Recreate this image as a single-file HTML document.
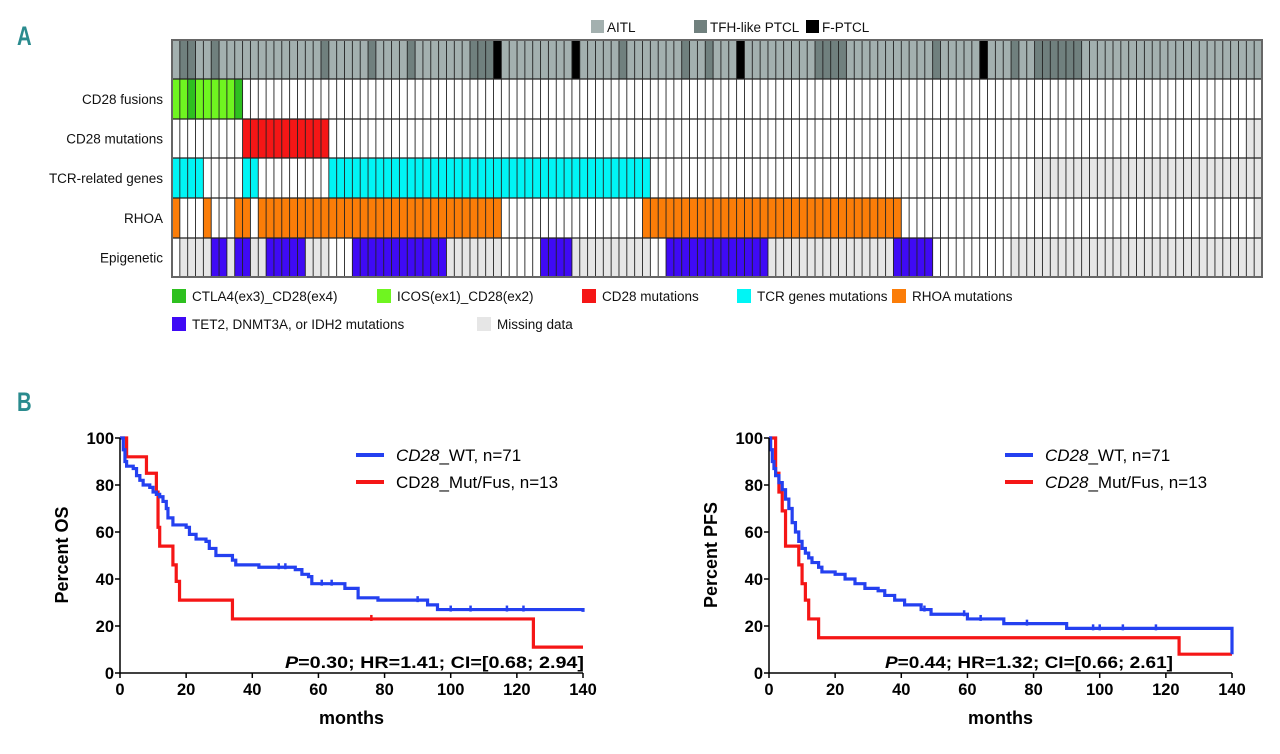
<!DOCTYPE html>
<html><head><meta charset="utf-8">
<style>
body{margin:0;background:#fff;width:1280px;height:749px;overflow:hidden;font-family:"Liberation Sans",sans-serif;}
</style></head>
<body>
<svg id="fig" width="1280" height="749" viewBox="0 0 1280 749" xmlns="http://www.w3.org/2000/svg" font-family="Liberation Sans, sans-serif">
<text x="0" y="0" font-size="27" font-weight="bold" fill="#2a8b8e" transform="translate(17,45) scale(0.75,1)">A</text>
<text x="0" y="0" font-size="27" font-weight="bold" fill="#2a8b8e" transform="translate(17,411) scale(0.75,1)">B</text>
<g id="heat"></g>
<g id="km1"></g>
<g id="km2"></g>
</svg>
<script>
const NS="http://www.w3.org/2000/svg";
function mk(tag,attrs,parent,txt){const e=document.createElementNS(NS,tag);for(const k in attrs)e.setAttribute(k,attrs[k]);if(txt!==undefined)e.textContent=txt;parent.appendChild(e);return e;}

// ---- Heatmap data ----
const nCols=139;
const rowNames=["CD28 fusions","CD28 mutations","TCR-related genes","RHOA","Epigenetic"];
const tfhCols=[1,2,5,19,25,30,38,39,40,57,65,68,82,83,84,85,97,107,110,111,112,113,114,115];
const fptclCols=[41,51,72,103];
const ctlaCols=[2,8];
const icosRange=[0,8];
const cd28MutRange=[9,19];
const tcrRanges=[[0,3],[9,10],[20,60]];
const rhoaRanges=[[0,0],[4,4],[8,9],[11,41],[60,92]];
const epiRanges=[[5,6],[8,9],[12,16],[23,34],[47,50],[63,75],[92,96]];
const missMut=[[137,138]];
const missTcr=[[110,138]];
const missRhoa=[[138,138]];
const missEpi=[[1,4],[7,7],[10,11],[17,19],[35,41],[51,60],[76,91],[107,138]];

const heat=document.getElementById('heat');
const gx0=172,gx1=1262,rowY=[40,79,119,158,198,238,277];
const cw=(gx1-gx0)/nCols;
const cx=i=>gx0+i*cw;
function fillRange(r,a,b,color,name){
  const e=mk('rect',{x:cx(a),y:rowY[r],width:(b-a+1)*cw,height:rowY[r+1]-rowY[r],fill:color},heat);
  
  
}
for(let i=0;i<nCols;i++){
  let c="#a3b0af";
  if(tfhCols.includes(i))c="#70807e";
  if(fptclCols.includes(i))c="#000";
  fillRange(0,i,i,c,'histology-cell');
}
for(let i=icosRange[0];i<=icosRange[1];i++)fillRange(1,i,i,ctlaCols.includes(i)?"#2ec01f":"#6ff520",'cd28-fusion-cell');
missMut.forEach(r=>fillRange(2,r[0],r[1],"#e6e6e6",'missing-cell'));
fillRange(2,cd28MutRange[0],cd28MutRange[1],"#f51616",'cd28-mutation-cell');
missTcr.forEach(r=>fillRange(3,r[0],r[1],"#e6e6e6",'missing-cell'));
tcrRanges.forEach(r=>fillRange(3,r[0],r[1],"#00f5f5",'tcr-mutation-cell'));
missRhoa.forEach(r=>fillRange(4,r[0],r[1],"#e6e6e6",'missing-cell'));
rhoaRanges.forEach(r=>fillRange(4,r[0],r[1],"#fb7d08",'rhoa-mutation-cell'));
missEpi.forEach(r=>fillRange(5,r[0],r[1],"#e6e6e6",'missing-cell'));
epiRanges.forEach(r=>fillRange(5,r[0],r[1],"#3f0af5",'epigenetic-mutation-cell'));
for(let i=0;i<=nCols;i++)mk('line',{x1:cx(i),x2:cx(i),y1:rowY[0],y2:rowY[6],stroke:"#222","stroke-width":0.9},heat);
rowY.forEach(y=>mk('line',{x1:gx0,x2:gx1,y1:y,y2:y,stroke:"#222","stroke-width":1.2},heat));
mk('rect',{x:gx0,y:rowY[0],width:gx1-gx0,height:rowY[6]-rowY[0],fill:"none",stroke:"#666","stroke-width":2},heat);
rowNames.forEach((n,i)=>{const t=mk('text',{x:163,y:(rowY[i+1]+rowY[i+2])/2+5,"text-anchor":"end","font-size":13.5,fill:"#111"},heat,n);
});
const topLeg=[["AITL","#a3b0af",591],["TFH-like PTCL","#70807e",694],["F-PTCL","#000",806]];
topLeg.forEach(l=>{const g=mk('g',{},heat);
mk('rect',{x:l[2],y:20,width:13,height:13,fill:l[1]},g);mk('text',{x:l[2]+16,y:32,"font-size":13.5,fill:"#111"},g,l[0]);});
const botLeg=[["CTLA4(ex3)_CD28(ex4)","#2ec01f",172,297],["ICOS(ex1)_CD28(ex2)","#6ff520",377,297],["CD28 mutations","#f51616",582,297],["TCR genes mutations","#00f5f5",737,297],["RHOA mutations","#fb7d08",892,297],["TET2, DNMT3A, or IDH2 mutations","#3f0af5",172,325],["Missing data","#e6e6e6",477,325]];
botLeg.forEach(l=>{const g=mk('g',{},heat);
mk('rect',{x:l[2],y:l[3]-8,width:14,height:14,fill:l[1]},g);mk('text',{x:l[2]+20,y:l[3]+4,"font-size":13.5,fill:"#111"},g,l[0]);});

// ---- KM data ----
const osWtT=[0,1,1.5,2,4,5,6,7,9,10,11,12,13,14,14.5,16,20,21,23,26,27,29,34,35,42,53,55,57,58,68,72,78,93,96,140];
const osWtS=[100,95,90,88,87,84,82,80,79,77,76,75,73,70,66,63,62,59,57,56,53,50,48,46,45,44,42,41,38,36,32,31,29,27,26];
const osMutT=[0,2,8,11,11.5,12,16,17,18,34,125,140];
const osMutS=[100,92,85,77,62,54,46,39,31,23,11,11];
const osWtCens=[48,50,61,64,90,100,106,117,122];
const osMutCens=[76];
const pfsWtT=[0,0.5,1,1.5,2,3,4,5,6,7,8,9,10,11,12,13,15,16,20,23,26,29,33,35,38,41,46,49,60,71,90,140];
const pfsWtS=[100,95,90,87,84,81,78,74,70,64,60,56,53,51,49,47,45,43,42,40,38,36,35,33,31,29,27,25,23,21,19,18];
const pfsMutT=[0,2,3,4,5,9,10,11,12,15,124,140];
const pfsMutS=[100,85,77,69,54,46,38,31,23,15,8,8];
const pfsWtCens=[47,59,64,78,98,100,107,117];
const xTicks=[0,20,40,60,80,100,120,140];
const yTicks=[0,20,40,60,80,100];

function km(gid,x0,x1,yl,wtT,wtS,muT,muS,wtC,muC,pText,legItalic2,finalDrop){
  const g=document.getElementById(gid);
  const y0=673,y100=438;
  const X=v=>x0+(x1-x0)*v/140, Y=v=>y0+(y100-y0)*v/100;
  function step(T,S,col,name,drop){
    let d=`M${X(T[0])},${Y(S[0])}`;
    for(let i=1;i<T.length;i++){d+=` H${X(T[i])} V${Y(S[i])}`;}
    if(drop!==undefined)d+=` V${Y(drop)}`;
    const p=mk('path',{d:d,fill:"none",stroke:col,"stroke-width":3.2},g);
    
    return p;
  }
  function sAt(T,S,t){let s=S[0];for(let i=0;i<T.length;i++)if(T[i]<=t)s=S[i];return s;}
  step(muT,muS,"#f51616",'mut-fus-curve');
  step(wtT,wtS,"#2440f0",'wt-curve',finalDrop);
  wtC.forEach(t=>{const c=mk('line',{x1:X(t),x2:X(t),y1:Y(sAt(wtT,wtS,t))-4,y2:Y(sAt(wtT,wtS,t))+2,stroke:"#2440f0","stroke-width":2.5},g);});
  muC.forEach(t=>{const c=mk('line',{x1:X(t),x2:X(t),y1:Y(sAt(muT,muS,t))-4,y2:Y(sAt(muT,muS,t))+2,stroke:"#f51616","stroke-width":2.5},g);});
  mk('line',{x1:x0,x2:x0,y1:y100,y2:y0,stroke:"#000","stroke-width":1.5},g);
  mk('line',{x1:x0,x2:x1,y1:y0,y2:y0,stroke:"#000","stroke-width":1.5},g);
  xTicks.forEach(v=>{mk('line',{x1:X(v),x2:X(v),y1:y0,y2:y0+5,stroke:"#000","stroke-width":1.5},g);
    const t=mk('text',{x:X(v),y:y0+22,"text-anchor":"middle","font-size":16.5,"font-weight":"bold"},g,v);});
  yTicks.forEach(v=>{mk('line',{x1:x0-5,x2:x0,y1:Y(v),y2:Y(v),stroke:"#000","stroke-width":1.5},g);
    const t=mk('text',{x:x0-6,y:Y(v)+6,"text-anchor":"end","font-size":16.5,"font-weight":"bold"},g,v);});
  const xt=mk('text',{x:(x0+x1)/2,y:724,"text-anchor":"middle","font-size":18,"font-weight":"bold"},g,"months");
  
  const yt=mk('text',{x:0,y:0,"text-anchor":"middle","font-size":18,"font-weight":"bold",transform:`translate(${x0-52},555) rotate(-90)`},g,yl);
  
  const lx=x0+236;
  const l1=mk('g',{},g);
  mk('line',{x1:lx,x2:lx+28,y1:455,y2:455,stroke:"#2440f0","stroke-width":4},l1);
  const t1=mk('text',{x:lx+40,y:461,"font-size":17},l1);mk('tspan',{"font-style":"italic"},t1,"CD28");mk('tspan',{},t1,"_WT, n=71");
  const l2=mk('g',{},g);
  mk('line',{x1:lx,x2:lx+28,y1:482,y2:482,stroke:"#f51616","stroke-width":4},l2);
  const t2=mk('text',{x:lx+40,y:488,"font-size":17},l2);
  if(legItalic2){mk('tspan',{"font-style":"italic"},t2,"CD28");mk('tspan',{},t2,"_Mut/Fus, n=13");}else{mk('tspan',{},t2,"CD28_Mut/Fus, n=13");}
  const pt=mk('text',{x:pText[0],y:668,"font-size":17,"font-weight":"bold",textLength:pText[2],lengthAdjust:"spacingAndGlyphs"},g);
  
  mk('tspan',{"font-style":"italic"},pt,"P");mk('tspan',{},pt,pText[1]);
}
km('km1',120,583,"Percent OS",osWtT,osWtS,osMutT,osMutS,osWtCens,osMutCens,[285,"=0.30; HR=1.41; CI=[0.68; 2.94]",299],false);
km('km2',769,1232,"Percent PFS",pfsWtT,pfsWtS,pfsMutT,pfsMutS,pfsWtCens,[],[885,"=0.44; HR=1.32; CI=[0.66; 2.61]",288],true,8);
</script>
</body></html>
